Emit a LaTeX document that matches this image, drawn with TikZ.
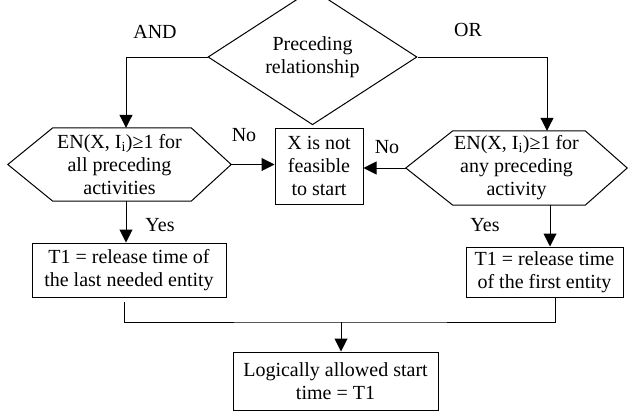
\documentclass[tikz,border=0pt]{standalone}
\usepackage{fontspec}
\setmainfont{Liberation Serif}
\usepackage{tikz}
\usetikzlibrary{arrows,arrows.meta,positioning,calc,shapes.geometric}

\newcommand{\hexframe}[3]{\draw[line width=1pt] (#1.west) -- ([xshift=#2]#1.north west) -- ([xshift=-#3]#1.north east) -- (#1.east) -- ([xshift=-#3]#1.south east) -- ([xshift=#2]#1.south west) -- cycle;}

\begin{document}
\begin{tikzpicture}[x=1pt,y=-1pt,
  every node/.style={font=\fontsize{20}{23}\selectfont},
  box/.style={draw, line width=1pt, inner sep=0pt, align=center},
  hexa/.style={inner sep=0pt, align=center},
  lbl/.style={inner sep=0pt},
  arr/.style={line width=1pt, -{Triangle[length=13pt,width=13pt]}}]
\useasboundingbox (0,0) rectangle (628,412);

\node[draw, line width=1pt, shape=diamond, inner sep=0pt, align=center,
  minimum width=209pt, minimum height=100pt] (rel) at (312.5,57) {Preceding\\relationship};
\node[lbl] (and) at (155,32) {AND};
\node[lbl] (or) at (468,30) {OR};

\node[hexa, minimum width=223pt, minimum height=73pt] (enall) at (119.5,164.5) {EN(X, I\textsubscript{i})≥1 for\\all preceding\\activities};
\hexframe{enall}{45pt}{40pt}
\node[hexa, minimum width=221pt, minimum height=74pt] (enany) at (516.5,168) {EN(X, I\textsubscript{i})≥1 for\\any preceding\\activity};
\hexframe{enany}{47pt}{42pt}

\node[box, minimum width=88pt, minimum height=76pt] (infeas) at (319,166) {X is not\\feasible\\to start};
\node[lbl] (noleft) at (244,135) {No};
\node[lbl] (noright) at (387,147) {No};

\node[box, minimum width=194pt, minimum height=54pt] (lastent) at (129,270) {T1 = release time of\\the last needed entity};
\node[box, minimum width=157pt, minimum height=50pt] (firstent) at (544.5,272) {T1 = release time\\of the first entity};
\node[lbl] (yesleft) at (160,225) {Yes};
\node[lbl] (yesright) at (485,225) {Yes};

\node[box, minimum width=205pt, minimum height=58pt] (start) at (335.5,381) {Logically allowed start\\time = T1};
\coordinate (merge) at (341,322);

\draw[arr] (rel.west) -| ([xshift=6.5pt]enall.north);
\draw[arr] (rel.east) -| ([xshift=30.5pt]enany.north);
\draw[arr] (enall.east) -- (enall.east -| infeas.west);
\draw[arr] (enany.west) -- (enany.west -| infeas.east);
\draw[arr] ([xshift=6.5pt]enall.south) -- ([xshift=6.5pt]enall.south |- lastent.north);
\draw[arr] ([xshift=33.5pt]enany.south) -- ([xshift=33.5pt]enany.south |- firstent.north);
\draw[line width=1pt] ([xshift=-5pt,yshift=-4pt]lastent.south) |- (merge) -| ([xshift=10.5pt]firstent.south);
\draw[arr] (merge) -- (merge |- start.north);
\end{tikzpicture}
\end{document}
